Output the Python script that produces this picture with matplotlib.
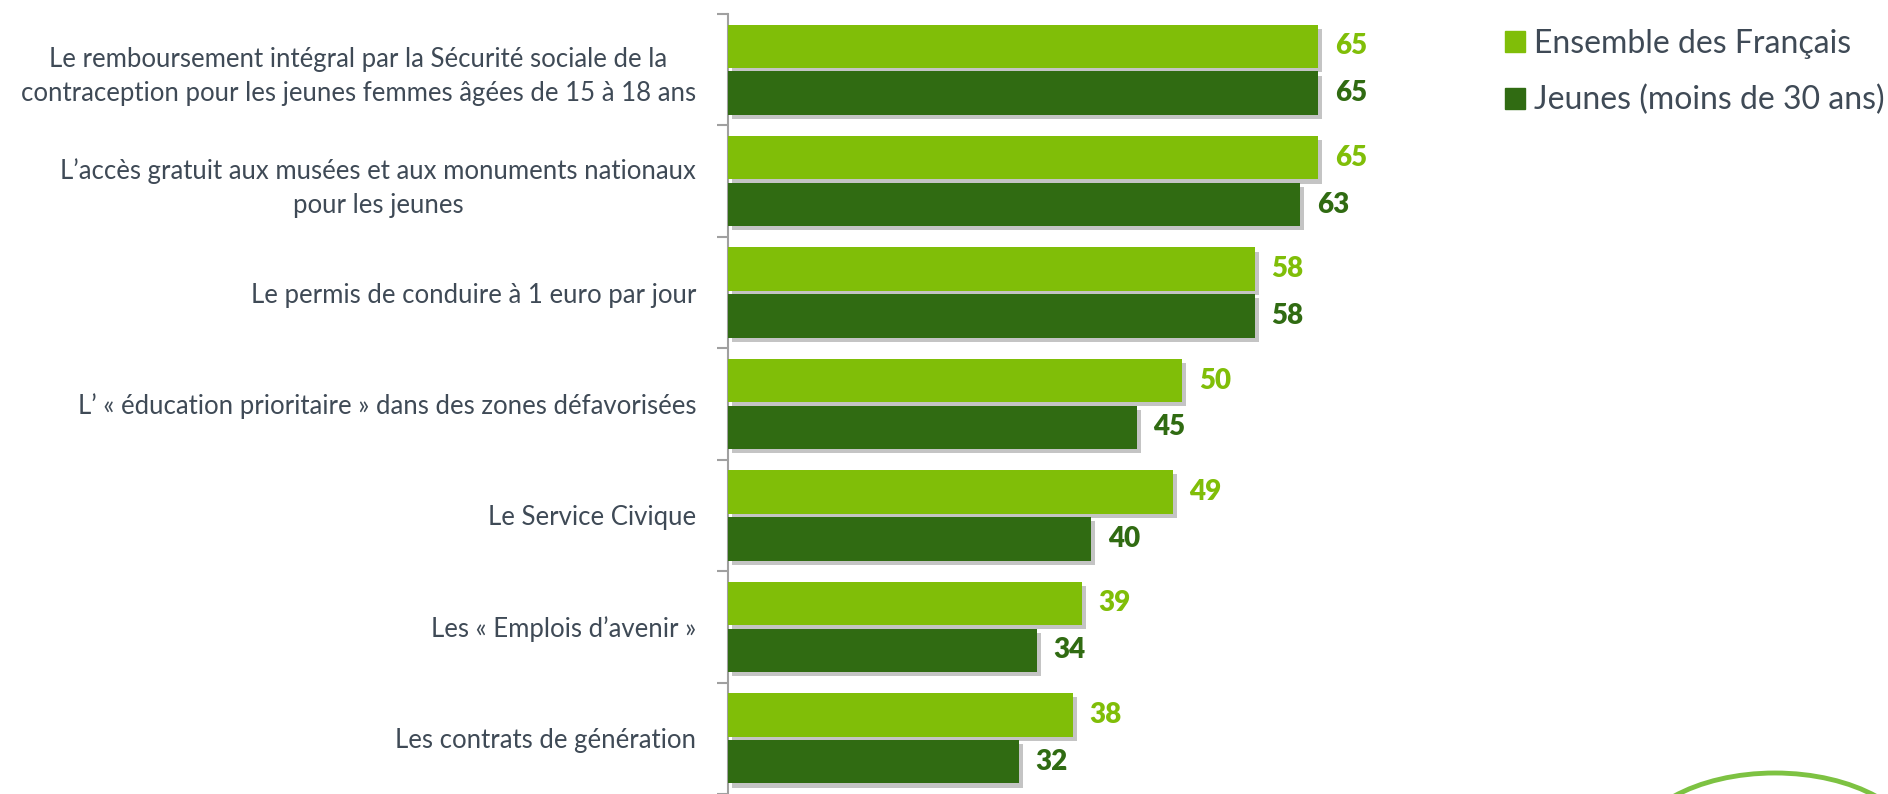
import matplotlib
matplotlib.use('Agg')
import matplotlib.pyplot as plt
import matplotlib.patheffects as pe
from matplotlib.patches import Patch, Arc
import numpy as np

plt.rcParams['font.family'] = ['Lato', 'DejaVu Sans']

categories = [
    "Le remboursement intégral par la Sécurité sociale de la\ncontraception pour les jeunes femmes âgées de 15 à 18 ans",
    "L\u2019accès gratuit aux musées et aux monuments nationaux\npour les jeunes",
    "Le permis de conduire à 1 euro par jour",
    "L\u2019 « éducation prioritaire » dans des zones défavorisées",
    "Le Service Civique",
    "Les « Emplois d\u2019avenir »",
    "Les contrats de génération",
]
ensemble = [65, 65, 58, 50, 49, 39, 38]
jeunes = [65, 63, 58, 45, 40, 34, 32]
series_names = ["Ensemble des Français", "Jeunes (moins de 30 ans)"]

light = '#80be08'
dark = '#306b12'
text_col = '#3f4a56'

fig = plt.figure(figsize=(18.88, 7.94), dpi=100)
ax = fig.add_axes([728 / 1888, 0.0, (85 * 9.08) / 1888, 780 / 794])

y = np.arange(len(categories))
h = 0.39
shadow = [pe.SimplePatchShadow(offset=(3, -3), shadow_rgbFace='#8a8a8a', alpha=0.5), pe.Normal()]

b1 = ax.barh(y - 0.21, ensemble, height=h, color=light, zorder=3)
b2 = ax.barh(y + 0.21, jeunes, height=h, color=dark, zorder=3)
for bars in (b1, b2):
    for p in bars:
        p.set_path_effects(shadow)

for yi, v in zip(y, ensemble):
    ax.annotate(str(v), (v, yi - 0.21), xytext=(12, 0), textcoords='offset points',
                va='center', ha='left', fontsize=20, fontweight='heavy', color=light)
for yi, v in zip(y, jeunes):
    ax.annotate(str(v), (v, yi + 0.21), xytext=(12, 0), textcoords='offset points',
                va='center', ha='left', fontsize=20, fontweight='heavy', color=dark)

ax.set_xlim(0, 85)
ax.set_ylim(len(categories) - 0.5, -0.5)
ax.set_yticks(y)
ax.set_yticklabels(categories, fontsize=18.5, color=text_col, multialignment='center',
                   linespacing=1.45)
ax.set_yticks(np.arange(-0.5, len(categories)), minor=True)
ax.tick_params(axis='y', which='major', length=0, pad=23)
ax.tick_params(axis='y', which='minor', length=8, width=1.5, color='#a0a0a0', direction='out')
ax.set_xticks([])
for s in ('top', 'right', 'bottom'):
    ax.spines[s].set_visible(False)
ax.spines['left'].set_color('#a0a0a0')
ax.spines['left'].set_linewidth(1.5)

handles = [Patch(color=light), Patch(color=dark)]
fig.legend(handles, series_names, loc='upper left', bbox_to_anchor=(1505 / 1888, 1 - 29 / 794),
           frameon=False, fontsize=23, labelcolor=text_col, handlelength=0.62, handleheight=0.62,
           handletextpad=0.3, labelspacing=0.82, borderaxespad=0, borderpad=0)

# decorative logo arc in the bottom-right corner
arc = Arc((1775 / 1888, -60 / 794), 288 / 1888, 162 / 794, theta1=0, theta2=180,
          transform=fig.transFigure, color='#7dc242', lw=3.5)
fig.add_artist(arc)

fig.savefig('out.png', dpi=100)
